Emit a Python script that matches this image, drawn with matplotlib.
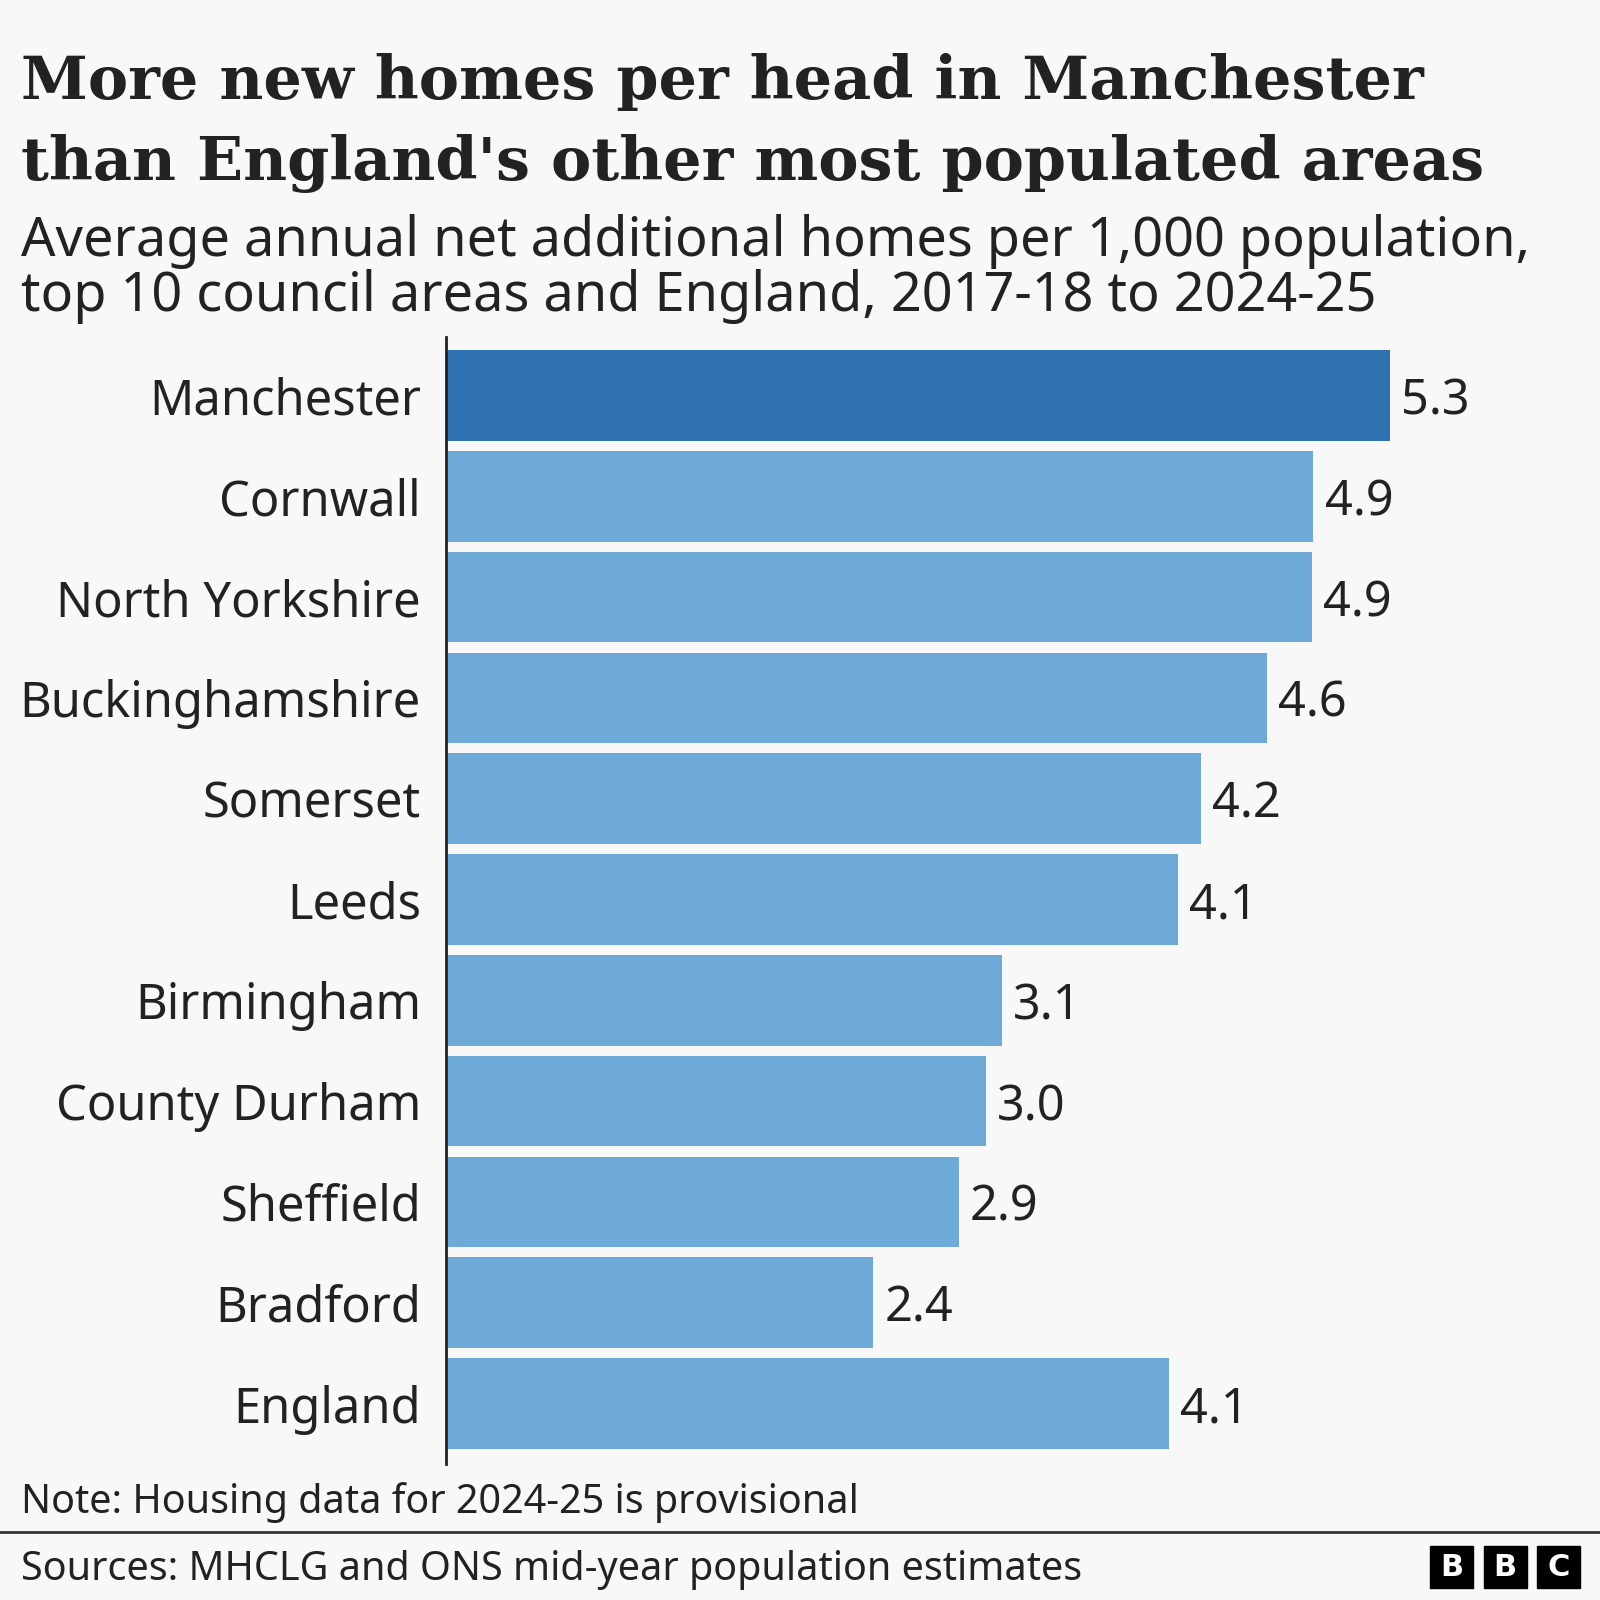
import matplotlib.pyplot as plt
from matplotlib.patches import Rectangle

# -------------------------
# Data
# -------------------------
areas = ["Manchester", "Cornwall", "North Yorkshire", "Buckinghamshire",
         "Somerset", "Leeds", "Birmingham", "County Durham",
         "Sheffield", "Bradford", "England"]
homes_per_1000 = [5.3, 4.87, 4.86, 4.61, 4.24, 4.11, 3.12, 3.03, 2.88, 2.4, 4.06]
highlight = "Manchester"

title = "More new homes per head in Manchester\nthan England's other most populated areas"
subtitle = ("Average annual net additional homes per 1,000 population,\n"
            "top 10 council areas and England, 2017-18 to 2024-25")
note = "Note: Housing data for 2024-25 is provisional"
source = "Sources: MHCLG and ONS mid-year population estimates"

# -------------------------
# Style
# -------------------------
BG = "#f8f8f8"
TXT = "#222222"
DARK = "#2e72b2"
LIGHT = "#6eaad8"
SANS = ["Noto Sans", "DejaVu Sans"]
SERIF = ["DejaVu Serif"]

W = H = 1600


def fx(px):
    return px / W


def fy(py):
    return 1 - py / H


fig = plt.figure(figsize=(16, 16), dpi=100, facecolor=BG)

# -------------------------
# Titles
# -------------------------
t1, t2 = title.split("\n")
s1, s2 = subtitle.split("\n")
fig.text(fx(21), fy(99), t1, fontsize=43.5, fontweight="bold",
         family=SERIF, color=TXT, va="baseline")
fig.text(fx(21), fy(180), t2, fontsize=43.5, fontweight="bold",
         family=SERIF, color=TXT, va="baseline")
fig.text(fx(21), fy(256), s1, fontsize=38.9,
         family=SANS, color=TXT, va="baseline")
fig.text(fx(21), fy(311), s2, fontsize=38.9,
         family=SANS, color=TXT, va="baseline")

# -------------------------
# Bars
# -------------------------
ax_left, ax_right = 446, 1560
ax_top, ax_bot = 337, 1464
ax = fig.add_axes([fx(ax_left), fy(ax_bot), fx(ax_right - ax_left),
                   (ax_bot - ax_top) / H])
ax.set_facecolor(BG)

ypos = list(range(len(areas)))
colors = [DARK if a == highlight else LIGHT for a in areas]
ax.barh(ypos, homes_per_1000, height=0.9, color=colors, zorder=2)

for y, v in zip(ypos, homes_per_1000):
    ax.annotate(f"{v:.1f}", (v, y), xytext=(8, 0), textcoords="offset points",
                va="center_baseline", ha="left", fontsize=35, family=SANS,
                color=TXT)

ax.set_xlim(0, (ax_right - ax_left) / (944 / 5.3))
ax.set_ylim(len(areas) - 1 + 0.6, -0.58)
ax.set_yticks(ypos)
ax.set_yticklabels(areas, fontsize=35.2, family=SANS, color=TXT,
                   va="center_baseline")
ax.tick_params(axis="y", length=0, pad=18)
ax.set_xticks([])
for s in ["top", "right", "bottom"]:
    ax.spines[s].set_visible(False)
ax.spines["left"].set_color("#222222")
ax.spines["left"].set_linewidth(2)

# -------------------------
# Footer
# -------------------------
fig.text(fx(21), fy(1513), note, fontsize=28.5, family=SANS, color=TXT,
         va="baseline")
fig.add_artist(plt.Line2D([0, 1], [fy(1532), fy(1532)], color="#333333",
                          linewidth=2, transform=fig.transFigure))
fig.text(fx(21), fy(1580), source, fontsize=28.5, family=SANS, color=TXT,
         va="baseline")

for i, letter in enumerate("BBC"):
    x0 = 1430 + i * 53.5
    fig.add_artist(Rectangle((fx(x0), fy(1588)), fx(43), 42 / H,
                             transform=fig.transFigure, color="black"))
    fig.text(fx(x0 + 21.5), fy(1567), letter, fontsize=22, fontweight="bold",
             family="DejaVu Sans", color="white", ha="center", va="center")

fig.savefig("out.png", dpi=100, facecolor=BG)
